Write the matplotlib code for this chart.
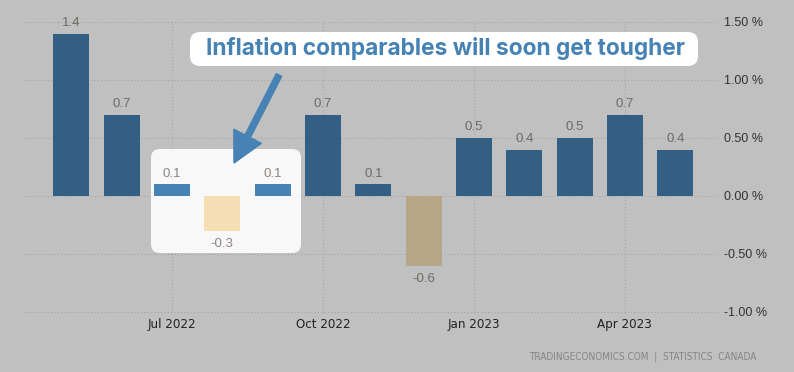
import matplotlib
matplotlib.use('Agg')
import matplotlib.pyplot as plt
from matplotlib.patches import FancyBboxPatch, FancyArrow
from matplotlib.transforms import IdentityTransform

# monthly CPI change, % (Canada)
months = ['May 2022', 'Jun 2022', 'Jul 2022', 'Aug 2022', 'Sep 2022', 'Oct 2022', 'Nov 2022',
          'Dec 2022', 'Jan 2023', 'Feb 2023', 'Mar 2023', 'Apr 2023', 'May 2023']
values = [1.4, 0.7, 0.1, -0.3, 0.1, 0.7, 0.1, -0.6, 0.5, 0.4, 0.5, 0.7, 0.4]
highlighted = ['Jul 2022', 'Aug 2022', 'Sep 2022']
tick_months = ['Jul 2022', 'Oct 2022', 'Jan 2023', 'Apr 2023']
yticks = [-1.0, -0.5, 0.0, 0.5, 1.0, 1.5]

W, H = 794, 372
BG = '#c0c0c0'

fig = plt.figure(figsize=(W / 100, H / 100), dpi=100, facecolor=BG)
ax = fig.add_axes([24 / W, (H - 314.3) / H, (718 - 24) / W, 292.3 / H])
ax.set_facecolor(BG)
pix = IdentityTransform()

x = list(range(len(months)))
colors = []
label_colors = []
for m, v in zip(months, values):
    if m in highlighted:
        colors.append('#4682b4' if v >= 0 else '#f5deb3')
        label_colors.append('#8c8480')
    else:
        colors.append('#345f85' if v >= 0 else '#b7a687')
        label_colors.append('#6e6964')

ax.bar(x, values, width=0.715, color=colors, zorder=3)

for xi, v, c in zip(x, values, label_colors):
    ax.annotate(f'{v:.1f}', (xi, v), xytext=(0, 3.5 if v >= 0 else -5), textcoords='offset points',
                ha='center', va='bottom' if v >= 0 else 'top', fontsize=9.5, color=c,
                family='Liberation Sans', zorder=4)

# white highlight box behind the summer 2022 bars
box = FancyBboxPatch((151, H - 253), 150, 104, boxstyle='round,pad=0,rounding_size=9',
                     transform=pix, facecolor='white', edgecolor='none', alpha=0.9, zorder=1)
ax.add_artist(box)

ax.set_xlim(-0.94, 12.85)
ax.set_ylim(-1.02, 1.5)
ax.set_xticks([months.index(m) for m in tick_months])
ax.set_xticklabels(tick_months, family='DejaVu Sans', fontstretch='condensed', fontsize=9.5,
                   color='#222222')
ax.set_yticks(yticks)
ax.set_yticklabels([f'{v:.2f} %' for v in yticks], family='Liberation Sans', fontsize=9, color='#333333')
ax.yaxis.tick_right()
ax.tick_params(axis='y', length=0, pad=4)
ax.tick_params(axis='x', length=0, pad=3)
ax.grid(True, color='#a4a4a4', linestyle=(0, (1, 2)), linewidth=0.8, zorder=0)
ax.set_axisbelow(True)
for s in ax.spines.values():
    s.set_visible(False)

# headline box
tbox = FancyBboxPatch((190, H - 66), 508, 34, boxstyle='round,pad=0,rounding_size=10',
                      transform=pix, facecolor='white', edgecolor='none', zorder=5)
fig.add_artist(tbox)
fig.text(445 / W, 1 - 49 / H, 'Inflation comparables will soon get tougher', ha='center', va='center',
         fontsize=16.4, fontweight='bold', color='#4682b4', family=['Inter', 'DejaVu Sans'], zorder=6)

arrow = FancyArrow(279, H - 75, 234 - 279, 75 - 163, width=6, head_width=31, head_length=30,
                   length_includes_head=True, transform=pix, color='#4682b4', zorder=6)
fig.add_artist(arrow)

fig.text(756 / W, 1 - 357 / H, 'TRADINGECONOMICS.COM  |  STATISTICS  CANADA', ha='right', va='center',
         fontsize=7.2, color='#858585', family='DejaVu Sans', fontstretch='condensed')

fig.savefig('out.png', dpi=100, facecolor=BG)
